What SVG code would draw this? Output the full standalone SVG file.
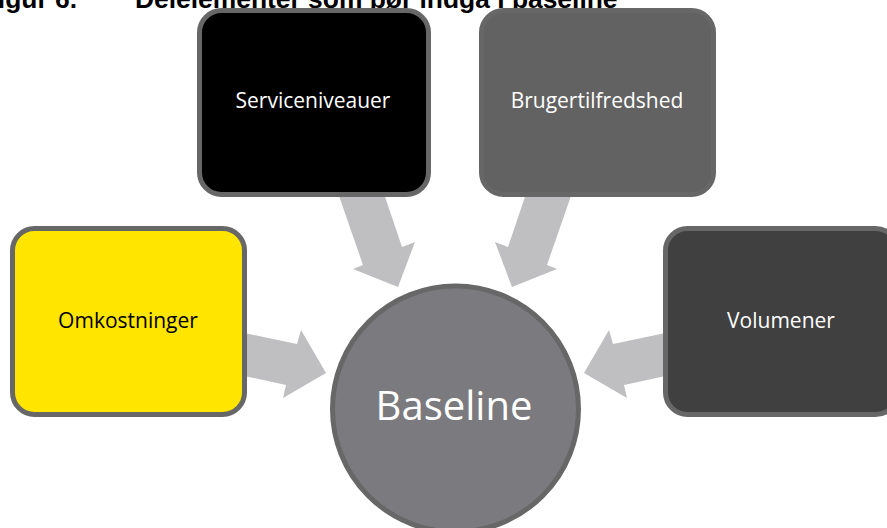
<svg xmlns="http://www.w3.org/2000/svg" width="887" height="528" viewBox="0 0 887 528">
  <style>
    .box { stroke: #676767; stroke-width: 5; }
    .arrow { fill: #bfbfc1; }
    .lbl { font-family: "Open Sans", "Liberation Sans", sans-serif; font-size: 21px; text-anchor: middle; }
    .title { font-family: "Liberation Sans", Arial, sans-serif; font-weight: bold; font-size: 26.4px; fill: #000; }
  </style>
  <rect width="887" height="528" fill="#ffffff"/>

  <!-- caption, partly above the top edge -->
  <text class="title" x="77" y="8" text-anchor="end">Figur 6.</text>
  <text class="title" x="135" y="8">Delelementer som bør indgå i baseline</text>

  <!-- block arrows pointing into the centre -->
  <g id="connectors">
    <polygon class="arrow" points="330,170 363,265 353,269 398,287 415,242 402,247 376,170"/>
    <polygon class="arrow" points="580,170 547,265 557,269 512,287 495,242 508,247 534,170"/>
    <polygon class="arrow" points="235,331 297,344 301,330 326,373 283,398 286,385 235,374"/>
    <polygon class="arrow" points="675,331 613,344 609,330 584,373 627,398 624,385 675,374"/>
  </g>

  <g id="serviceniveauer">
    <rect class="box" x="199.5" y="10.5" width="229" height="184" rx="22" fill="#000000"/>
    <text class="lbl" x="313" y="108" fill="#ffffff">Serviceniveauer</text>
  </g>

  <g id="brugertilfredshed">
    <rect class="box" x="481.5" y="10.5" width="232" height="184" rx="22" fill="#626262" stroke="#646464"/>
    <text class="lbl" x="597" y="108" fill="#ffffff">Brugertilfredshed</text>
  </g>

  <g id="omkostninger">
    <rect class="box" x="12.5" y="228.5" width="232" height="186" rx="22" fill="#ffe500"/>
    <text class="lbl" x="128" y="328" fill="#000000">Omkostninger</text>
  </g>

  <g id="volumener">
    <rect class="box" x="665.5" y="228.5" width="232" height="186" rx="22" fill="#404040"/>
    <text class="lbl" x="781" y="328" fill="#ffffff">Volumener</text>
  </g>

  <g id="baseline">
    <circle class="box" cx="455.5" cy="409" r="123" fill="#7b7a7f"/>
    <text x="454" y="420" fill="#ffffff" font-family="Open Sans, Liberation Sans, sans-serif" font-size="40" text-anchor="middle">Baseline</text>
  </g>
</svg>
